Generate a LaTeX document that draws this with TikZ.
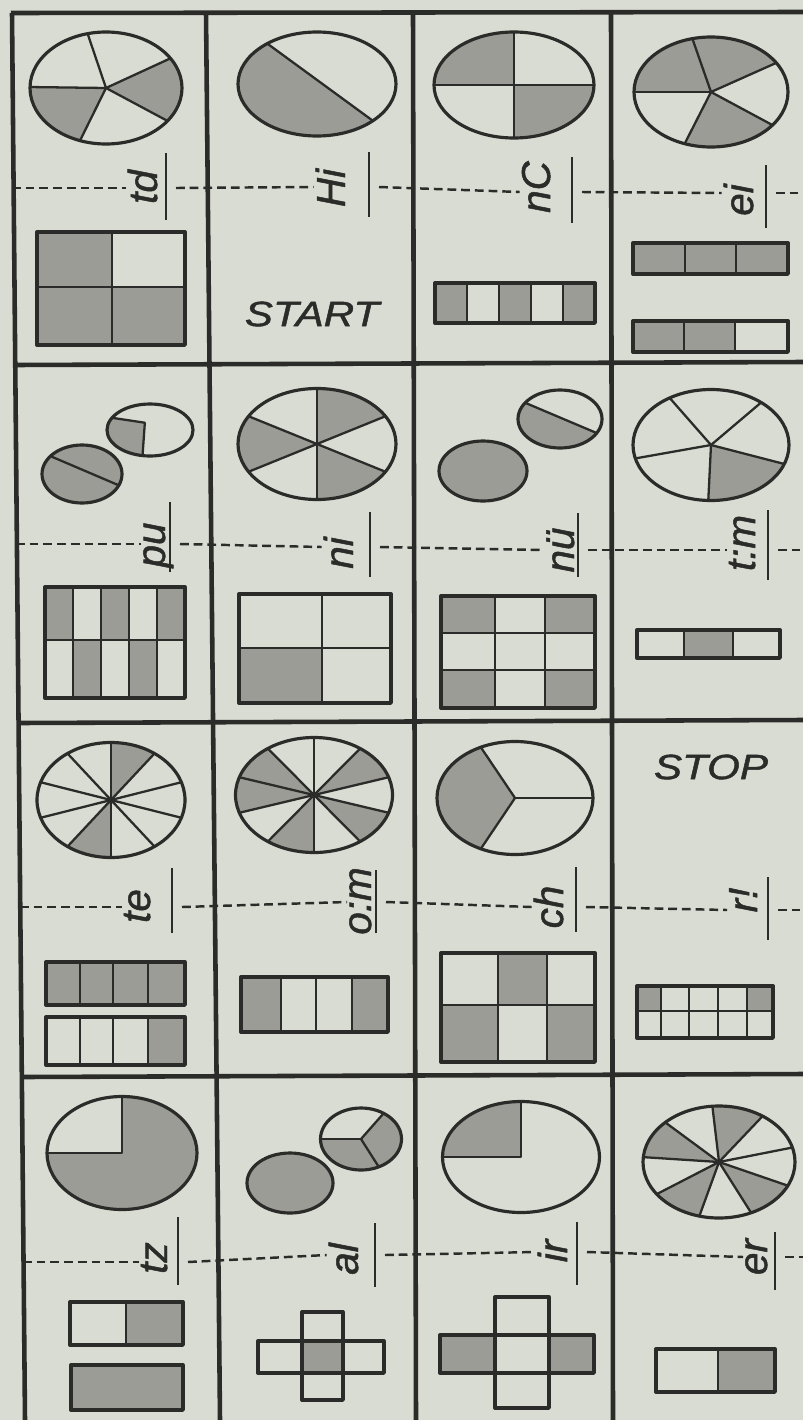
\documentclass[tikz,border=0pt]{standalone}
\usepackage{fontspec}
\setsansfont{Liberation Sans}
\newfontfamily\hand{Liberation Sans}[FakeBold=1.2]

\definecolor{paper}{HTML}{D9DCD3}
\definecolor{ink}{HTML}{2B2B29}
\definecolor{stip}{HTML}{9B9C96}

\begin{document}
\begin{tikzpicture}[x=0.02cm,y=-0.02cm,line join=round,
  rim/.style={draw=ink,line width=1.8pt},
  spoke/.style={draw=ink,line width=1.3pt},
  dots/.style={fill=stip},
  box/.style={draw=ink,line width=1.9pt},
  div/.style={draw=ink,line width=1.3pt},
  rule/.style={draw=ink,line width=2.6pt},
  cut/.style={draw=ink,line width=1.4pt,dash pattern=on 5pt off 2.8pt},
  bar/.style={draw=ink,line width=1.5pt},
  lab/.style={rotate=90,anchor=base,inner sep=1pt,text=ink,font=\hand\itshape\fontsize{23}{25}\selectfont},
  sign/.style={text=ink,xscale=1.2,font=\hand\itshape\fontsize{20}{24}\selectfont}]

\fill[paper] (0,0) rectangle (803,1420);
\useasboundingbox (0,0) rectangle (803,1420);

% the card grid
\draw[rule] (12,13) -- (25,1420) (206,13) -- (220,1420) (413,13) -- (416,1420) (611,13) -- (613,1420);
\draw[rule] (11,13) -- (803,12) (14,365) -- (803,362) (18,723) -- (803,720) (22,1077) -- (803,1074);

% ---- pies ----
% td
\begin{scope}[shift={(106,88)},xscale=76,yscale=56]
  \foreach \a/\b in {-32/36,110/181} \fill[dots] (0,0) -- (\a:1) arc[start angle=\a,end angle=\b,radius=1] -- cycle;
  \foreach \a in {-104,-32,36,110,181} \draw[spoke] (0,0) -- (\a:1);
  \draw[rim] (0,0) circle[radius=1];
\end{scope}
% Hi
\begin{scope}[shift={(317,84)},xscale=79,yscale=52]
  \fill[dots] (45:1) arc[start angle=45,end angle=231,radius=1] -- cycle;
  \draw[spoke] (45:1) -- (231:1);
  \draw[rim] (0,0) circle[radius=1];
\end{scope}
% nC
\begin{scope}[shift={(514,85)},xscale=80,yscale=53]
  \foreach \a/\b in {0/90,180/270} \fill[dots] (0,0) -- (\a:1) arc[start angle=\a,end angle=\b,radius=1] -- cycle;
  \foreach \a in {0,90,180,270} \draw[spoke] (0,0) -- (\a:1);
  \draw[rim] (0,0) circle[radius=1];
\end{scope}
% ei
\begin{scope}[shift={(711,92)},xscale=77,yscale=55]
  \foreach \a/\b in {180/256,256/328,37/110} \fill[dots] (0,0) -- (\a:1) arc[start angle=\a,end angle=\b,radius=1] -- cycle;
  \foreach \a in {-104,-32,37,110,180} \draw[spoke] (0,0) -- (\a:1);
  \draw[rim] (0,0) circle[radius=1];
\end{scope}
% pu
\begin{scope}[shift={(82,474)},xscale=40,yscale=29]
  \fill[dots] (0,0) circle[radius=1];
  \draw[spoke] (23:1) -- (218:1);
  \draw[rim] (0,0) circle[radius=1];
\end{scope}
\begin{scope}[shift={(150,430)},xscale=43,yscale=26]
  \fill[dots] (-0.12,-0.28) -- (208:1) arc[start angle=208,end angle=100,radius=1] -- cycle;
  \draw[spoke] (208:1) -- (-0.12,-0.28) -- (100:1);
  \draw[rim] (0,0) circle[radius=1];
\end{scope}
% ni
\begin{scope}[shift={(317,444)},xscale=79,yscale=55.5]
  \foreach \a/\b in {-90/-30,30/90,150/210} \fill[dots] (0,0) -- (\a:1) arc[start angle=\a,end angle=\b,radius=1] -- cycle;
  \foreach \a in {-90,-30,...,210} \draw[spoke] (0,0) -- (\a:1);
  \draw[rim] (0,0) circle[radius=1];
\end{scope}
% nü
\begin{scope}[shift={(483,471)},xscale=44,yscale=30]
  \draw[rim,fill=stip] (0,0) circle[radius=1];
\end{scope}
\begin{scope}[shift={(560,419)},xscale=42,yscale=29]
  \fill[dots] (29:1) arc[start angle=29,end angle=214,radius=1] -- cycle;
  \draw[spoke] (29:1) -- (214:1);
  \draw[rim] (0,0) circle[radius=1];
\end{scope}
% t:m
\begin{scope}[shift={(711,445)},xscale=78,yscale=55.5]
  \fill[dots] (0,0) -- (20:1) arc[start angle=20,end angle=92,radius=1] -- cycle;
  \foreach \a in {-122,-50,20,92,166} \draw[spoke] (0,0) -- (\a:1);
  \draw[rim] (0,0) circle[radius=1];
\end{scope}
% te
\begin{scope}[shift={(111,800)},xscale=74,yscale=57.5]
  \foreach \a/\b in {-90/-54,90/126} \fill[dots] (0,0) -- (\a:1) arc[start angle=\a,end angle=\b,radius=1] -- cycle;
  \foreach \a in {-90,-54,...,234} \draw[spoke] (0,0) -- (\a:1);
  \draw[rim] (0,0) circle[radius=1];
\end{scope}
% o:m
\begin{scope}[shift={(314,795)},xscale=78.5,yscale=57.5]
  \foreach \a/\b in {-54/-18,18/54,90/126,162/234} \fill[dots] (0,0) -- (\a:1) arc[start angle=\a,end angle=\b,radius=1] -- cycle;
  \foreach \a in {-90,-54,...,234} \draw[spoke] (0,0) -- (\a:1);
  \draw[rim] (0,0) circle[radius=1];
\end{scope}
% ch
\begin{scope}[shift={(515,798)},xscale=78,yscale=56.5]
  \fill[dots] (0,0) -- (116:1) arc[start angle=116,end angle=244,radius=1] -- cycle;
  \foreach \a in {0,116,244} \draw[spoke] (0,0) -- (\a:1);
  \draw[rim] (0,0) circle[radius=1];
\end{scope}
% tz
\begin{scope}[shift={(122,1153)},xscale=75,yscale=56.5]
  \fill[dots] (0,0) -- (-90:1) arc[start angle=-90,end angle=180,radius=1] -- cycle;
  \draw[spoke] (180:1) -- (0,0) -- (270:1);
  \draw[rim] (0,0) circle[radius=1];
\end{scope}
% al
\begin{scope}[shift={(290,1183)},xscale=43,yscale=30]
  \draw[rim,fill=stip] (0,0) circle[radius=1];
\end{scope}
\begin{scope}[shift={(361,1139)},xscale=40.5,yscale=31]
  \fill[dots] (0,0) -- (-56:1) arc[start angle=-56,end angle=180,radius=1] -- cycle;
  \foreach \a in {-56,64,180} \draw[spoke] (0,0) -- (\a:1);
  \draw[rim] (0,0) circle[radius=1];
\end{scope}
% ir
\begin{scope}[shift={(521,1157)},xscale=78.5,yscale=55.5]
  \fill[dots] (0,0) -- (180:1) arc[start angle=180,end angle=270,radius=1] -- cycle;
  \draw[spoke] (180:1) -- (0,0) -- (270:1);
  \draw[rim] (0,0) circle[radius=1];
\end{scope}
% er
\begin{scope}[shift={(719,1162)},xscale=76,yscale=56]
  \foreach \a/\b in {-95/-55,25/65,105/145,185/225} \fill[dots] (0,0) -- (\a:1) arc[start angle=\a,end angle=\b,radius=1] -- cycle;
  \foreach \a in {-95,-55,...,225} \draw[spoke] (0,0) -- (\a:1);
  \draw[rim] (0,0) circle[radius=1];
\end{scope}

% ---- bars and squares ----
% td
\fill[dots] (37,232) rectangle (112,345) (112,287) rectangle (185,345);
\draw[div] (112,232) -- (112,345) (37,287) -- (185,287);
\draw[box] (37,232) rectangle (185,345);
% nC
\foreach \i in {0,2,4} \fill[dots] ({435+32*\i},283) rectangle ({467+32*\i},323);
\foreach \i in {1,...,4} \draw[div] ({435+32*\i},283) -- ({435+32*\i},323);
\draw[box] (435,283) rectangle (595,323);
% ei
\fill[dots] (633,243) rectangle (788,274) (633,321) rectangle (735,352);
\draw[div] (685,243) -- (685,274) (736,243) -- (736,274) (684,321) -- (684,352) (735,321) -- (735,352);
\draw[box] (633,243) rectangle (788,274) (633,321) rectangle (788,352);
% pu
\foreach \i in {0,2,4} \fill[dots] ({45+28*\i},587) rectangle ({73+28*\i},640);
\foreach \i in {1,3} \fill[dots] ({45+28*\i},640) rectangle ({73+28*\i},698);
\foreach \i in {1,...,4} \draw[div] ({45+28*\i},587) -- ({45+28*\i},698);
\draw[div] (45,640) -- (185,640);
\draw[box] (45,587) rectangle (185,698);
% ni
\fill[dots] (239,648) rectangle (322,703);
\draw[div] (322,594) -- (322,703) (239,648) -- (391,648);
\draw[box] (239,594) rectangle (391,703);
% nü
\fill[dots] (441,596) rectangle (495,633) (545,596) rectangle (595,633) (441,670) rectangle (495,708) (545,670) rectangle (595,708);
\draw[div] (495,596) -- (495,708) (545,596) -- (545,708) (441,633) -- (595,633) (441,670) -- (595,670);
\draw[box] (441,596) rectangle (595,708);
% t:m
\fill[dots] (684,630) rectangle (733,658);
\draw[div] (684,630) -- (684,658) (733,630) -- (733,658);
\draw[box] (637,630) rectangle (780,658);
% te
\fill[dots] (46,962) rectangle (185,1005) (148,1017) rectangle (185,1065);
\foreach \x in {80,113,148} \draw[div] (\x,962) -- (\x,1005) (\x,1017) -- (\x,1065);
\draw[box] (46,962) rectangle (185,1005) (46,1017) rectangle (185,1065);
% o:m
\fill[dots] (241,977) rectangle (281,1032) (352,977) rectangle (388,1032);
\foreach \x in {281,316,352} \draw[div] (\x,977) -- (\x,1032);
\draw[box] (241,977) rectangle (388,1032);
% ch
\fill[dots] (498,953) rectangle (547,1005) (441,1005) rectangle (498,1062) (547,1005) rectangle (595,1062);
\draw[div] (498,953) -- (498,1062) (547,953) -- (547,1062) (441,1005) -- (595,1005);
\draw[box] (441,953) rectangle (595,1062);
% r!
\fill[dots] (637,986) rectangle (661,1011) (747,986) rectangle (773,1011);
\foreach \x in {661,689,718,747} \draw[div] (\x,986) -- (\x,1038);
\draw[div] (637,1011) -- (773,1011);
\draw[box] (637,986) rectangle (773,1038);
% tz
\fill[dots] (126,1302) rectangle (183,1345) (71,1365) rectangle (183,1410);
\draw[div] (126,1302) -- (126,1345);
\draw[box] (70,1302) rectangle (183,1345) (71,1365) rectangle (183,1410);
% al
\fill[dots] (302,1341) rectangle (343,1373);
\draw[box] (302,1312) rectangle (343,1400) (258,1341) rectangle (384,1373);
% ir
\fill[dots] (440,1335) rectangle (495,1373) (549,1335) rectangle (594,1373);
\draw[box] (495,1297) rectangle (549,1408) (440,1335) rectangle (594,1373);
% er
\fill[dots] (718,1349) rectangle (775,1392);
\draw[div] (718,1349) -- (718,1392);
\draw[box] (656,1349) rectangle (775,1392);

\node[sign] (start) at (312,314) {START};
\node[sign] (stop) at (711,767) {STOP};

% ---- fold lines with the syllables ----
\foreach \lx/\ly/\dy/\bx/\ba/\bb/\txt [count=\c, remember=\bx as \pb (initially 2), remember=\dy as \pd (initially 188)] in
  {157/187/188/166/153/220/td, 345/188/187/369/152/217/Hi, 550/187/192/572/157/223/nC, 753/200/193/766/165/228/ei} {
  \node[lab] (a\c) at (\lx,\ly) {\txt};
  \draw[cut] (\pb+10,\pd) -- (a\c.north |- 0,\dy);
  \draw[bar] (\bx,\ba) -- (\bx,\bb);
}
\draw[cut] (776,193) -- (803,193);
\foreach \lx/\ly/\dy/\bx/\ba/\bb/\txt [count=\c, remember=\bx as \pb (initially 6), remember=\dy as \pd (initially 544)] in
  {165/545/544/170/502/572/pu, 353/553/547/370/512/577/ni, 574/550/550/578/513/577/nü, 755/543/550/768/510/580/t:m} {
  \node[lab] (b\c) at (\lx,\ly) {\txt};
  \draw[cut] (\pb+10,\pd) -- (b\c.north |- 0,\dy);
  \draw[bar] (\bx,\ba) -- (\bx,\bb);
}
\draw[cut] (778,550) -- (803,550);
\foreach \lx/\ly/\dy/\bx/\ba/\bb/\txt [count=\c, remember=\bx as \pb (initially 10), remember=\dy as \pd (initially 907)] in
  {150/906/907/172/868/933/te, 371/901/902/376/870/933/o:m, 563/907/907/576/867/932/ch, 757/900/910/768/877/940/r!} {
  \node[lab] (c\c) at (\lx,\ly) {\txt};
  \draw[cut] (\pb+10,\pd) -- (c\c.north |- 0,\dy);
  \draw[bar] (\bx,\ba) -- (\bx,\bb);
}
\draw[cut] (778,910) -- (803,910);
\foreach \lx/\ly/\dy/\bx/\ba/\bb/\txt [count=\c, remember=\bx as \pb (initially 13), remember=\dy as \pd (initially 1262)] in
  {167/1258/1262/178/1217/1285/tz, 358/1259/1255/375/1223/1287/al, 567/1251/1252/577/1222/1285/ir, 767/1257/1257/775/1232/1290/er} {
  \node[lab] (d\c) at (\lx,\ly) {\txt};
  \draw[cut] (\pb+10,\pd) -- (d\c.north |- 0,\dy);
  \draw[bar] (\bx,\ba) -- (\bx,\bb);
}
\draw[cut] (785,1257) -- (803,1257);
\end{tikzpicture}
\end{document}
